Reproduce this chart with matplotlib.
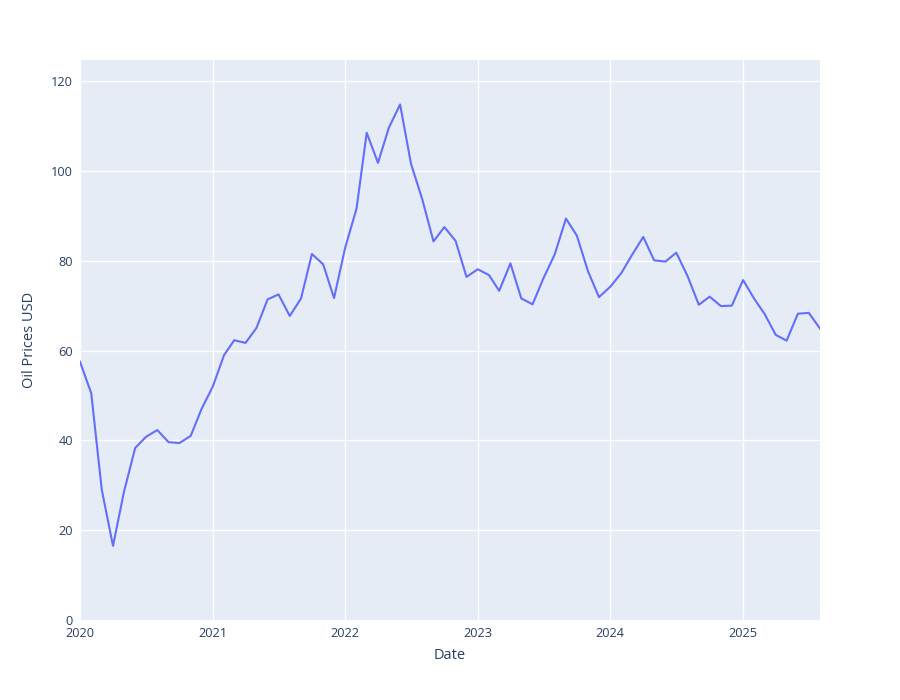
"""
Monthly oil prices, plotly-style line chart
"""
import numpy as np
import pandas as pd
import matplotlib
import matplotlib.pyplot as plt
import matplotlib.dates as mdates

matplotlib.use('Agg')

start_month = "2020-01-01"
prices = [
    57.5, 50.5, 29.0, 16.5, 28.5, 38.3, 40.8, 42.3, 39.6, 39.4, 41.0, 47.0,   # 2020
    52.0, 59.0, 62.3, 61.7, 65.0, 71.4, 72.5, 67.7, 71.6, 81.5, 79.2, 71.7,   # 2021
    83.0, 91.6, 108.5, 101.8, 109.6, 114.8, 101.6, 93.7, 84.3, 87.5, 84.4, 76.4,  # 2022
    78.1, 76.8, 73.3, 79.4, 71.6, 70.3, 76.1, 81.4, 89.4, 85.6, 77.6, 71.9,   # 2023
    74.2, 77.3, 81.3, 85.3, 80.1, 79.8, 81.8, 76.6, 70.2, 72.0, 69.9, 70.0,   # 2024
    75.7, 71.5, 68.2, 63.5, 62.2, 68.2, 68.4, 64.9,                          # 2025
]
dates = pd.date_range(start_month, periods=len(prices), freq="MS")
y_ticks = [0, 20, 40, 60, 80, 100, 120]
year_ticks = ["2020", "2021", "2022", "2023", "2024", "2025"]

text_color = "#2a3f5f"
plt.rcParams['font.family'] = ['Open Sans', 'DejaVu Sans']

fig = plt.figure(figsize=(9, 7), dpi=100)
ax = fig.add_axes([80 / 900, 80 / 700, 740 / 900, 560 / 700])
ax.set_facecolor("#E5ECF6")

ax.plot(dates, prices, color="#636EFA", linewidth=1.5, zorder=3)

ax.set_xlim(dates[0], dates[-1])
ax.set_ylim(0, 124.7)
ax.set_yticks(y_ticks)
ax.set_xticks(pd.to_datetime([y + "-01-01" for y in year_ticks]))
ax.xaxis.set_major_formatter(mdates.DateFormatter("%Y"))

ax.grid(True, color="white", linewidth=1.0, zorder=1)
ax.set_axisbelow(True)
for s in ax.spines.values():
    s.set_visible(False)
ax.tick_params(length=0, labelsize=9.2, labelcolor=text_color, pad=5)

ax.set_xlabel("Date", fontsize=10.5, color=text_color, labelpad=6)
ax.set_ylabel("Oil Prices USD", fontsize=10.5, color=text_color, labelpad=10)

fig.savefig("out.png")
